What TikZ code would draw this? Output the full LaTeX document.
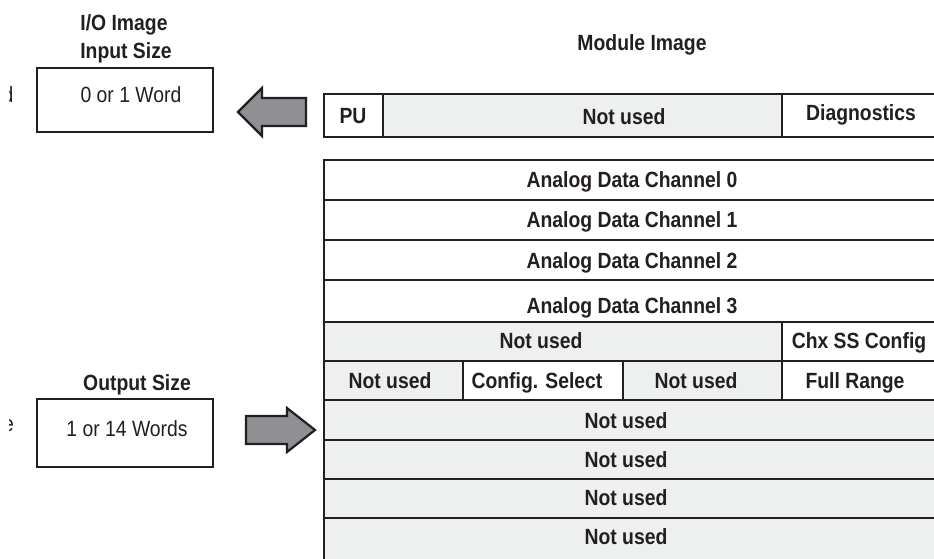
\documentclass[tikz,border=0pt]{standalone}
\usepackage{fontspec}
\setmainfont{Liberation Sans}[FakeStretch=0.88]
\definecolor{ink}{HTML}{231F20}
\definecolor{unused}{HTML}{EEF0EF}
\definecolor{arrowgrey}{HTML}{8E9093}
\tikzset{
  cellwhite/.style={draw=ink, line width=2.4pt, fill=white},
  cellgrey/.style={draw=ink, line width=2.4pt, fill=unused},
  sizebox/.style={draw=ink, line width=2.2pt, fill=white},
  lab/.style={font=\fontsize{22}{26}\selectfont\bfseries, text=ink, inner sep=0pt, anchor=base},
  plain/.style={font=\fontsize{22}{26}\selectfont, text=ink, inner sep=0pt, anchor=base},
  blockarrow/.style={draw=ink, line width=2.2pt, fill=arrowgrey, line join=miter},
}
\begin{document}
\begin{tikzpicture}[x=1pt,y=-1pt]
\useasboundingbox (0,0) rectangle (934,558);
\clip (0,0) rectangle (934,558);

% ends of words running in from the left margin
\begin{scope}
  \clip (9,0) rectangle (20,558);
  \node[plain, anchor=base east] (frag-in) at (13.5,102) {d};
  \node[plain, anchor=base east] (frag-out) at (14,431) {e};
\end{scope}

% input size box
\node[lab] (in-title-a) at (124,30) {I/O Image};
\node[lab] (in-title-b) at (126,58) {Input Size};
\draw[sizebox] (37,68) rectangle (213,132);
\node[plain] (in-size) at (131,102) {0 or 1 Word};

% output size box
\node[lab] (out-title) at (137,390) {Output Size};
\draw[sizebox] (37,399) rectangle (213,467);
\node[plain] (out-size) at (127,436) {1 or 14 Words};

% block arrows
\draw[blockarrow] (306,98) -- (262,98) -- (262,88) -- (238,112) -- (262,136) -- (262,126) -- (306,126) -- cycle;
\draw[blockarrow] (246,416) -- (287,416) -- (287,408) -- (315,430) -- (287,452) -- (287,444) -- (246,444) -- cycle;

\node[lab] (mod-title) at (642,50) {Module Image};

% input word
\draw[cellwhite] (324,94) rectangle (383,137);
\draw[cellgrey] (383,94) rectangle (782,137);
\draw[cellwhite] (782,94) rectangle (940,137);
\node[lab] (in-pu) at (353,123) {PU};
\node[lab] (in-unused) at (624,124) {Not used};
\node[lab] (in-diag) at (861,120) {Diagnostics};

% output words: analog data
\foreach \top/\bot/\ch/\base in {160/200/0/187, 200/240/1/227, 240/280/2/268, 280/322/3/313} {
  \draw[cellwhite] (324,\top) rectangle (940,\bot);
  \node[lab] (out-ch\ch) at (632,\base) {Analog Data Channel \ch};
}

% output words: configuration
\draw[cellgrey] (324,322) rectangle (782,361);
\draw[cellwhite] (782,322) rectangle (940,361);
\node[lab] (cfg-unused) at (541,348) {Not used};
\node[lab] (cfg-ss) at (859,348) {Chx SS Config};

\draw[cellgrey] (324,361) rectangle (463,400);
\draw[cellwhite] (463,361) rectangle (623,400);
\draw[cellgrey] (623,361) rectangle (782,400);
\draw[cellwhite] (782,361) rectangle (940,400);
\node[lab] (sel-unused-a) at (390,388) {Not used};
\node[lab] (sel-config) at (537,388) {Config. Select};
\node[lab] (sel-unused-b) at (696,388) {Not used};
\node[lab] (sel-range) at (855,388) {Full Range};

% output words: reserved
\foreach \top/\bot/\base [count=\i] in {400/440/428, 440/479/467, 479/518/505, 518/565/544} {
  \draw[cellgrey] (324,\top) rectangle (940,\bot);
  \node[lab] (res-\i) at (626,\base) {Not used};
}
\end{tikzpicture}
\end{document}
